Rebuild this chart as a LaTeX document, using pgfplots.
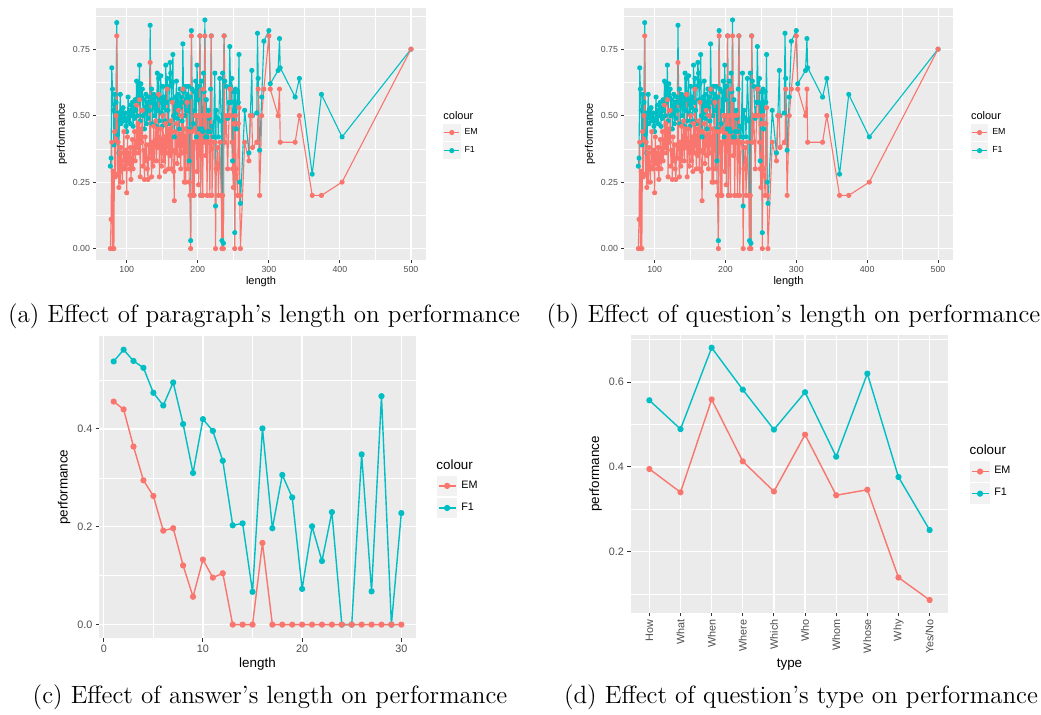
\documentclass[border=0pt]{standalone}
\usepackage{fontspec}
\usepackage{pgfplots}
\usepackage{pgfplotstable}
\pgfplotsset{compat=1.18}
\newfontfamily\hv{Liberation Sans}

\definecolor{emc}{HTML}{F8766D}
\definecolor{f1c}{HTML}{00BFC4}
\definecolor{panelbg}{HTML}{EBEBEB}
\definecolor{keybg}{HTML}{F2F2F2}
\definecolor{ticklab}{HTML}{4D4D4D}
\definecolor{tickc}{HTML}{333333}

% length vs performance (same data in panels a and b)
\pgfplotstableread{
L EM F1
77 0.00 0.31
78 0.11 0.34
79 0.40 0.68
80 0.00 0.60
81 0.29 0.52
82 0.00 0.39
83 0.44 0.58
84 0.27 0.44
85 0.50 0.55
86 0.80 0.85
87 0.28 0.43
88 0.40 0.51
89 0.23 0.36
90 0.36 0.50
91 0.25 0.58
92 0.38 0.47
93 0.31 0.52
94 0.25 0.49
95 0.36 0.53
96 0.44 0.50
97 0.30 0.48
98 0.33 0.51
99 0.37 0.46
100 0.21 0.44
101 0.42 0.49
102 0.32 0.57
103 0.36 0.48
104 0.30 0.52
105 0.38 0.47
106 0.26 0.54
107 0.33 0.50
108 0.41 0.55
109 0.30 0.46
110 0.36 0.53
111 0.44 0.49
112 0.33 0.56
113 0.36 0.52
114 0.54 0.63
115 0.38 0.50
116 0.47 0.62
117 0.36 0.55
118 0.56 0.69
119 0.27 0.48
120 0.45 0.62
121 0.40 0.57
122 0.52 0.60
123 0.31 0.50
124 0.37 0.56
125 0.26 0.45
126 0.42 0.53
127 0.33 0.58
128 0.39 0.47
129 0.30 0.55
130 0.26 0.49
131 0.39 0.57
132 0.34 0.52
133 0.70 0.84
134 0.38 0.55
135 0.27 0.60
136 0.40 0.47
137 0.31 0.56
138 0.46 0.58
139 0.33 0.50
140 0.39 0.57
141 0.48 0.53
142 0.33 0.46
143 0.45 0.66
144 0.38 0.52
145 0.58 0.64
146 0.27 0.48
147 0.39 0.56
148 0.45 0.65
149 0.31 0.51
150 0.36 0.46
151 0.50 0.61
152 0.33 0.53
153 0.42 0.57
154 0.29 0.48
155 0.47 0.69
156 0.36 0.55
157 0.60 0.64
158 0.39 0.52
159 0.30 0.47
160 0.45 0.61
161 0.35 0.70
162 0.48 0.66
163 0.30 0.56
164 0.55 0.62
165 0.37 0.73
166 0.29 0.50
167 0.18 0.42
168 0.44 0.57
169 0.36 0.51
170 0.47 0.63
171 0.32 0.49
172 0.40 0.58
173 0.52 0.55
174 0.35 0.45
175 0.43 0.60
176 0.30 0.53
177 0.50 0.57
178 0.36 0.48
179 0.60 0.77
180 0.40 0.59
181 0.25 0.55
182 0.45 0.50
183 0.25 0.61
184 0.40 0.45
185 0.55 0.58
186 0.30 0.52
187 0.44 0.61
188 0.25 0.33
189 0.20 0.57
190 0.00 0.03
191 0.80 0.82
192 0.44 0.60
193 0.20 0.45
194 0.40 0.47
195 0.20 0.59
196 0.45 0.52
197 0.50 0.63
198 0.40 0.42
199 0.29 0.69
200 0.50 0.56
201 0.24 0.61
202 0.40 0.45
203 0.80 0.80
204 0.20 0.20
205 0.50 0.63
206 0.40 0.45
207 0.20 0.44
208 0.60 0.66
209 0.40 0.59
210 0.80 0.86
211 0.35 0.42
212 0.50 0.56
213 0.20 0.42
214 0.40 0.44
215 0.50 0.52
216 0.40 0.49
217 0.20 0.44
218 0.40 0.60
219 0.80 0.80
220 0.20 0.46
222 0.40 0.42
224 0.40 0.66
225 0.00 0.16
226 0.30 0.52
228 0.38 0.49
229 0.20 0.42
231 0.40 0.64
233 0.20 0.48
234 0.00 0.03
235 0.20 0.66
236 0.00 0.02
237 0.80 0.80
238 0.40 0.63
240 0.50 0.61
242 0.30 0.49
244 0.50 0.55
245 0.60 0.76
246 0.60 0.61
247 0.50 0.55
248 0.40 0.64
249 0.30 0.33
250 0.23 0.50
251 0.47 0.59
252 0.00 0.06
253 0.50 0.60
254 0.30 0.45
256 0.20 0.59
257 0.47 0.55
258 0.53 0.73
259 0.20 0.25
260 0.00 0.17
266 0.40 0.52
272 0.33 0.36
274 0.50 0.50
276 0.50 0.67
277 0.38 0.50
283 0.40 0.51
284 0.40 0.81
285 0.60 0.64
287 0.20 0.37
290 0.50 0.57
293 0.60 0.78
300 0.80 0.82
302 0.60 0.62
313 0.50 0.67
315 0.60 0.79
316 0.40 0.68
337 0.40 0.57
343 0.50 0.64
361 0.20 0.28
374 0.20 0.58
403 0.25 0.42
500 0.75 0.75
}\lenA

\pgfplotsset{
  gg/.style={
    scale only axis,
    axis background/.style={fill=panelbg},
    axis line style={draw=none},
    grid=both,
    tick align=outside,
    tick pos=left,
    minor tick length=0pt,
    tick style={draw=tickc, line width=0.5pt},
    tick label style={text=ticklab},
    legend cell align=left,
    legend style={draw=none, fill=none, inner sep=0pt, outer sep=0pt,
      anchor=north west, nodes={inner sep=0pt},
      /tikz/every odd column/.append style={column sep=2pt}},
  },
  ggsmall/.style={
    major tick length=1.6pt,
    major grid style={white, line width=0.55pt},
    minor grid style={white, line width=0.28pt},
    tick label style={font=\hv\fontsize{4.4}{5}\selectfont, inner sep=1.2pt},
    label style={font=\hv\fontsize{5.5}{6.5}\selectfont, inner sep=0pt},
    legend style={font=\hv\fontsize{4.4}{5}\selectfont, row sep=0.5pt},
    legend image code/.code={
      \fill[keybg] (0pt,-4pt) rectangle (8.25pt,4pt);
      \draw[##1] (0.4pt,0pt) -- (7.85pt,0pt);
      \fill[##1] (4.125pt,0pt) circle (1pt);
    },
  },
  ggbig/.style={
    major tick length=1.8pt,
    major grid style={white, line width=0.65pt},
    minor grid style={white, line width=0.33pt},
    tick label style={font=\hv\fontsize{5.4}{6}\selectfont, inner sep=1.4pt},
    label style={font=\hv\fontsize{6.7}{7.5}\selectfont, inner sep=0pt},
    legend style={font=\hv\fontsize{5.4}{6}\selectfont, row sep=0.85pt},
    legend image code/.code={
      \fill[keybg] (0pt,-4.75pt) rectangle (9.5pt,4.75pt);
      \draw[##1] (0.5pt,0pt) -- (9pt,0pt);
      \fill[##1] (4.75pt,0pt) circle (1.2pt);
    },
  },
  emA/.style={color=emc, line width=0.55pt, line join=round, mark=*, mark size=1pt, mark options={draw=none, fill=emc}},
  f1A/.style={color=f1c, line width=0.55pt, line join=round, mark=*, mark size=1pt, mark options={draw=none, fill=f1c}},
  emB/.style={color=emc, line width=0.7pt, line join=round, mark=*, mark size=1.2pt, mark options={draw=none, fill=emc}},
  f1B/.style={color=f1c, line width=0.7pt, line join=round, mark=*, mark size=1.2pt, mark options={draw=none, fill=f1c}},
  lenaxis/.style={
    gg, ggsmall,
    width=165pt, height=126pt,
    xmin=56.8, xmax=521.1, ymin=-0.043, ymax=0.905,
    xtick={100,200,300,400,500}, xticklabels={100,200,300,400,500},
    minor xtick={150,250,350,450},
    ytick={0,0.25,0.5,0.75}, yticklabels={0.00,0.25,0.50,0.75},
    minor ytick={0.125,0.375,0.625,0.875},
    xlabel={length}, ylabel={performance},
    xlabel style={at={(axis description cs:0.5,-0.086)}, anchor=center},
    ylabel style={at={(axis description cs:-0.103,0.5)}, anchor=center},
  },
}

\begin{document}
\begin{tikzpicture}
% (a)
\begin{axis}[lenaxis, at={(48pt,-130pt)}, anchor=south west,
  legend style={at={(1.0515,0.5397)}}]
\addlegendimage{color=emc, line width=0.55pt}\addlegendentry{EM}
\addlegendimage{color=f1c, line width=0.55pt}\addlegendentry{F1}
\addplot[f1A, forget plot] table[x=L, y=F1] {\lenA};
\addplot[emA, forget plot] table[x=L, y=EM] {\lenA};
\end{axis}
\node[anchor=west, inner sep=0pt, font=\hv\fontsize{5.5}{6.5}\selectfont] at (221.5pt,-58pt) {colour};

% (b)
\begin{axis}[lenaxis, width=164.5pt, at={(312pt,-130pt)}, anchor=south west,
  legend style={at={(1.054,0.5397)}}]
\addlegendimage{color=emc, line width=0.55pt}\addlegendentry{EM}
\addlegendimage{color=f1c, line width=0.55pt}\addlegendentry{F1}
\addplot[f1A, forget plot] table[x=L, y=F1] {\lenA};
\addplot[emA, forget plot] table[x=L, y=EM] {\lenA};
\end{axis}
\node[anchor=west, inner sep=0pt, font=\hv\fontsize{5.5}{6.5}\selectfont] at (485.3pt,-58pt) {colour};

% (c)
\begin{axis}[gg, ggbig, at={(49.65pt,-319.15pt)}, anchor=south west,
  width=158.2pt, height=151.15pt,
  xmin=-0.45, xmax=31.45, ymin=-0.028, ymax=0.590,
  xtick={0,10,20,30}, xticklabels={0,10,20,30}, minor xtick={5,15,25},
  ytick={0,0.2,0.4}, yticklabels={0.0,0.2,0.4}, minor ytick={0.1,0.3,0.5},
  xlabel={length}, ylabel={performance},
  xlabel style={at={(axis description cs:0.5,-0.086)}, anchor=center},
  ylabel style={at={(axis description cs:-0.111,0.5)}, anchor=center},
  legend style={at={(1.067,0.538)}}]
\addlegendimage{color=emc, line width=0.7pt}\addlegendentry{EM}
\addlegendimage{color=f1c, line width=0.7pt}\addlegendentry{F1}
\addplot[f1B, forget plot] coordinates {
  (1,0.538) (2,0.562) (3,0.539) (4,0.525) (5,0.474) (6,0.448) (7,0.495) (8,0.410)
  (9,0.310) (10,0.420) (11,0.396) (12,0.335) (13,0.203) (14,0.207) (15,0.067)
  (16,0.401) (17,0.197) (18,0.306) (19,0.260) (20,0.073) (21,0.201) (22,0.130)
  (23,0.230) (24,0) (25,0) (26,0.348) (27,0.068) (28,0.467) (29,0) (30,0.228)
};
\addplot[emB, forget plot] coordinates {
  (1,0.456) (2,0.440) (3,0.364) (4,0.295) (5,0.263) (6,0.192) (7,0.197) (8,0.121)
  (9,0.057) (10,0.133) (11,0.096) (12,0.105) (13,0) (14,0) (15,0) (16,0.167)
  (17,0) (18,0) (19,0) (20,0) (21,0) (22,0) (23,0) (24,0) (25,0) (26,0) (27,0)
  (28,0) (29,0) (30,0)
};
\end{axis}
\node[anchor=west, inner sep=0pt, font=\hv\fontsize{6.7}{7.5}\selectfont] at (218pt,-232.3pt) {colour};

% (d)
\begin{axis}[gg, ggbig, at={(315.35pt,-306.35pt)}, anchor=south west,
  width=158.8pt, height=138.85pt,
  xmin=0.4, xmax=10.6, ymin=0.056, ymax=0.711,
  xtick={1,...,10},
  xticklabels={How,What,When,Where,Which,Who,Whom,Whose,Why,Yes/No},
  xticklabel style={rotate=90, anchor=east},
  ytick={0.2,0.4,0.6}, yticklabels={0.2,0.4,0.6}, minor ytick={0.1,0.3,0.5,0.7},
  xlabel={type}, ylabel={performance},
  xlabel style={at={(axis description cs:0.5,-0.188)}, anchor=center},
  ylabel style={at={(axis description cs:-0.110,0.5)}, anchor=center},
  legend style={at={(1.068,0.545)}}]
\addlegendimage{color=emc, line width=0.7pt}\addlegendentry{EM}
\addlegendimage{color=f1c, line width=0.7pt}\addlegendentry{F1}
\addplot[f1B, forget plot] coordinates {
  (1,0.557) (2,0.489) (3,0.681) (4,0.582) (5,0.488) (6,0.576) (7,0.424) (8,0.620)
  (9,0.376) (10,0.251)
};
\addplot[emB, forget plot] coordinates {
  (1,0.395) (2,0.340) (3,0.559) (4,0.413) (5,0.342) (6,0.476) (7,0.333) (8,0.346)
  (9,0.139) (10,0.086)
};
\end{axis}
\node[anchor=west, inner sep=0pt, font=\hv\fontsize{6.7}{7.5}\selectfont] at (484.6pt,-225pt) {colour};

% captions
\begin{scope}[every node/.style={inner sep=0pt, anchor=center, font=\fontsize{12.5}{14.5}\selectfont}]
\node at (132pt,-158pt) {(a) Effect of paragraph's length on performance};
\node at (396.75pt,-158pt) {(b) Effect of question's length on performance};
\node at (135pt,-348.5pt) {(c) Effect of answer's length on performance};
\node at (400.5pt,-348.5pt) {(d) Effect of question's type on performance};
\end{scope}

\pgfresetboundingbox
\path[use as bounding box] (0pt,0pt) rectangle (520.5pt,-357pt);
\end{tikzpicture}
\end{document}
